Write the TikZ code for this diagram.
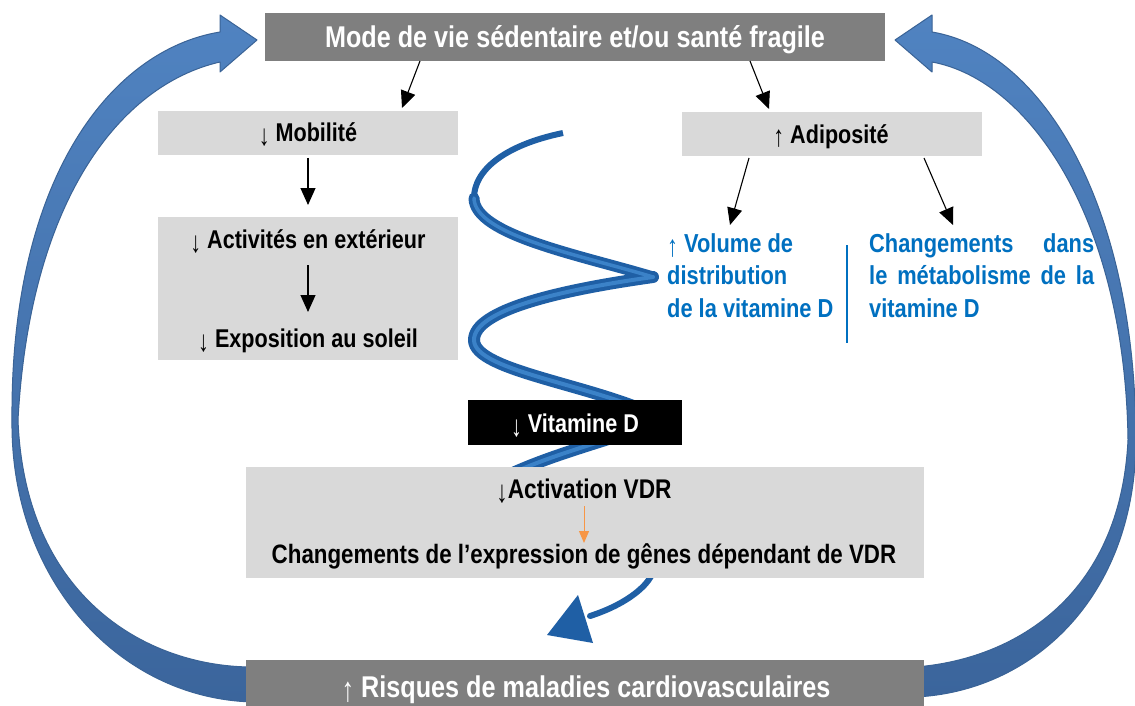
\documentclass[tikz,border=0pt]{standalone}
\usepackage{fontspec}
\setmainfont{Liberation Sans}[FakeStretch=0.84]
\usetikzlibrary{arrows.meta,calc}
\definecolor{dgray}{HTML}{7F7F7F}
\definecolor{lgray}{HTML}{D9D9D9}
\definecolor{tblue}{HTML}{0070C0}
\definecolor{abluetop}{HTML}{5083C1}
\definecolor{ablueb}{HTML}{3B659C}
\definecolor{abluedraw}{HTML}{3A6396}
\definecolor{sblue}{HTML}{1F5FA5}
\definecolor{shi}{HTML}{3B82C8}
\definecolor{orng}{HTML}{F79646}
\newcommand\arrdn{{\mdseries\raisebox{-4pt}{\scalebox{1}[1.15]{↓}}}}
\newcommand\arrup{{\mdseries\raisebox{-4pt}{\scalebox{1}[1.15]{↑}}}}
\begin{document}
\begin{tikzpicture}[x=1pt,y=-1pt,
  boxd/.style={fill=dgray, inner sep=0, outer sep=0},
  boxl/.style={fill=lgray, inner sep=0, outer sep=0},
  lab/.style={anchor=base, inner sep=0, font=\bfseries\fontsize{25.7}{29}\selectfont},
  biglab/.style={anchor=base, inner sep=0, text=white, font=\bfseries\fontsize{30}{33}\selectfont},
  bluelab/.style={anchor=base west, inner sep=0, text=tblue, font=\bfseries\fontsize{26}{29}\selectfont},
  conn/.style={line width=1.1pt, -{Triangle[length=17pt,width=15pt]}},
  oconn/.style={orng, line width=1pt, -{Triangle[length=12pt,width=10pt]}},
  bigarrow/.style={top color=abluetop, bottom color=ablueb, draw=abluedraw, line width=1pt, line join=round},
  spiral/.style={sblue, line cap=round, line join=round},
  spiralhi/.style={shi, line cap=round, line join=round},
]
\useasboundingbox (0,0) rectangle (1135,706);
\fill[white] (0,0) rectangle (1135,706);

% big curved arrows
\path[bigarrow] (257,40) -- (220,15) -- (220,32)
  .. controls (110,50) and (10,180) .. (12,420)
  .. controls (10,580) and (120,700) .. (255,702) -- (255,667)
  .. controls (150,668) and (25,600) .. (18,420)
  .. controls (30,200) and (120,85) .. (220,62) -- (220,72) -- cycle;
\path[bigarrow] (895,40) -- (932,15) -- (932,32)
  .. controls (1040,50) and (1135,200) .. (1136,440)
  .. controls (1135,600) and (1030,692) .. (915,697) -- (915,667)
  .. controls (1010,660) and (1120,600) .. (1128,440)
  .. controls (1125,220) and (1030,80) .. (932,62) -- (932,72) -- cycle;

% spiral
\draw[spiral, line width=6pt, line cap=butt] (563,133) .. controls (505,145) and (474,170) .. (474,198);
\draw[spiral, line width=11pt] (474,198) .. controls (474,235) and (580,255) .. (653,277);
\draw[spiral, line width=12pt] (653,277) .. controls (560,290) and (474,310) .. (474,340);
\draw[spiral, line width=12pt] (474,340) .. controls (474,372) and (600,385) .. (665,420)
  .. controls (610,440) and (560,452) .. (515,472)
  .. controls (460,500) and (520,530) .. (650,555);
\draw[spiral, line width=6pt] (650,555) .. controls (665,570) and (640,600) .. (590,616);
\draw[spiralhi, line width=3.5pt] (474,198) .. controls (474,235) and (580,255) .. (653,277);
\draw[spiralhi, line width=4pt] (653,277) .. controls (560,290) and (474,310) .. (474,340);
\draw[spiralhi, line width=4pt] (474,340) .. controls (474,372) and (600,385) .. (665,420)
  .. controls (610,440) and (560,452) .. (515,472);
\fill[sblue] (547,635) -- (578,595) -- (593,643) -- cycle;

% boxes
\node[boxd, minimum width=620pt, minimum height=48pt] (topbox) at (575,37) {};
\node[boxl, minimum width=300pt, minimum height=44pt] (mobbox) at (308,133) {};
\node[boxl, minimum width=300pt, minimum height=44pt] (adipbox) at (832,134) {};
\node[boxl, minimum width=300pt, minimum height=143pt] (actbox) at (308,288.5) {};
\node[fill=black, inner sep=0, outer sep=0, minimum width=214pt, minimum height=45pt] (vitbox) at (575,422.5) {};
\node[boxl, minimum width=678pt, minimum height=111pt] (vdrbox) at (585,522.5) {};
\node[boxd, minimum width=678pt, minimum height=52pt] (riskbox) at (585,686) {};

% texts
\node[biglab] (toptxt) at (575,48) {Mode de vie sédentaire et/ou santé fragile};
\node[lab] (mobtxt) at (308,142) {\arrdn\ Mobilité};
\node[lab] (adiptxt) at (831,143) {\arrup\ Adiposité};
\node[lab] (acttxt) at (308,248) {\arrdn\ Activités en extérieur};
\node[lab] (expotxt) at (308,347) {\arrdn\ Exposition au soleil};
\node[lab, text=white] (vittxt) at (575,432) {\arrdn\ Vitamine D};
\node[lab, font=\bfseries\fontsize{27}{30}\selectfont] (vdrtxt) at (584,498) {\arrdn Activation VDR};
\node[lab, font=\bfseries\fontsize{26.6}{30}\selectfont] (genestxt) at (584,563) {Changements de l’expression de gênes dépendant de VDR};
\node[biglab] (risktxt) at (586,697) {\arrup\ Risques de maladies cardiovasculaires};

\node[bluelab] (vol1) at (667,252) {\arrup\ Volume de};
\node[bluelab] (vol2) at (667,284.5) {distribution};
\node[bluelab] (vol3) at (667,317) {de la vitamine D};
\node[bluelab] (chg1) at (869,252) {\hbox to 225pt{Changements\hfill dans}};
\node[bluelab] (chg2) at (869,284.5) {\hbox to 225pt{le\hfill métabolisme\hfill de\hfill la}};
\node[bluelab] (chg3) at (869,317) {vitamine D};
\coordinate (septop) at (847,245);
\coordinate (sepbot) at (847,343);
\draw[tblue, line width=1.2pt] (septop) -- (sepbot);

% connectors
\draw[conn] ([xshift=-155pt]topbox.south) -- ([xshift=94pt,yshift=3pt]mobbox.north);
\draw[conn] ([xshift=175pt]topbox.south) -- ([xshift=-63pt,yshift=3pt]adipbox.north);
\draw[conn] ([yshift=-3pt]mobbox.south) -- ([yshift=12pt]actbox.north);
\draw[conn] ([yshift=-17pt]acttxt.base) -- ([yshift=35pt]expotxt.base);
\draw[conn] ([xshift=-83pt,yshift=-2pt]adipbox.south) -- ([xshift=63pt,yshift=27pt]vol1.base west);
\draw[conn] ([xshift=92pt,yshift=-2pt]adipbox.south) -- ([xshift=84pt,yshift=27pt]chg1.base west);
\draw[oconn] ([yshift=-8pt]vdrtxt.base) -- ([yshift=20pt]genestxt.base);
\end{tikzpicture}
\end{document}
